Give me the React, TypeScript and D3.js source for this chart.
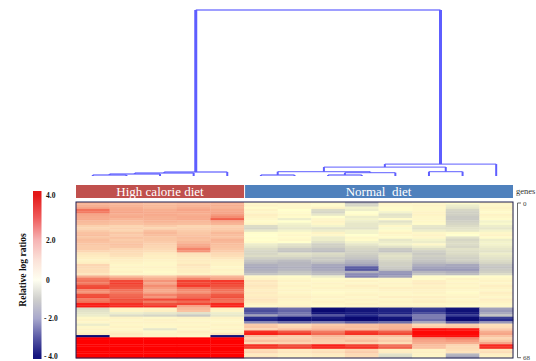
import React from "react";
import * as d3 from "d3";

// ---- data ----
const samples = ["HC1", "HC2", "HC3", "HC4", "HC5", "N1", "N2", "N3", "N4", "N5", "N6", "N7", "N8"];
const groupNames = ["High calorie diet", "Normal  diet"];
const groupSizes = [5, 8];
const geneTicks = [0, 68];
const legendTicks = [4, 2, 0, -2, -4];
const legendLabels = ["4.0", "2.0", "0", "- 2.0", "- 4.0"];

// merges: [leftNode, rightNode, height]; leaves 0..12, new clusters 13..
const dendroMerges: [number, number, number][] = [
  [0, 1, 0.006],
  [13, 2, 0.012],
  [14, 3, 0.018],
  [15, 4, 0.024],
  [5, 6, 0.006],
  [7, 8, 0.006],
  [18, 9, 0.02],
  [17, 19, 0.026],
  [10, 11, 0.026],
  [20, 21, 0.054],
  [22, 12, 0.072],
  [16, 23, 1.0],
];

const F = 4;
const heatRows: number[][] = [
  [1.7, 1.6, 1.5, 1.6, 1.7, 0.2, 0.3, 0.2, -0.9, 0.3, 0.2, 0.1, 0.3],
  [1.8, 1.7, 1.6, 1.7, 1.8, 0.3, 0.2, 0.1, -0.7, 0.2, 0.3, -0.3, 0.2],
  [2.0, 1.8, 1.6, 1.8, 1.7, 0.1, 0.2, 0.3, -0.2, 0.1, 0.2, -0.4, 0.3],
  [2.6, 1.9, 1.8, 2.0, 1.9, 0.3, 0.0, -0.6, -0.3, 0.1, 0.2, -0.7, 0.2],
  [2.5, 2.0, 1.9, 1.9, 2.0, 0.2, 0.1, -0.7, 0.0, -0.2, 0.3, -0.8, 0.1],
  [2.0, 1.8, 1.9, 1.8, 2.1, 0.4, 0.2, -0.4, 0.1, -0.5, 0.3, -0.8, 0.3],
  [1.9, 1.9, 1.8, 1.9, 2.3, 0.3, 0.1, 0.0, -0.3, -0.4, 0.2, -0.9, 0.2],
  [1.9, 1.7, 1.8, 1.9, 2.8, 0.2, -0.3, 0.2, -0.2, 0.1, 0.2, -0.9, 0.1],
  [1.6, 1.5, 1.7, 1.6, 1.9, 0.1, 0.0, 0.3, -0.3, -0.5, 0.2, -0.8, -0.2],
  [1.5, 1.4, 1.5, 1.5, 1.7, 0.2, -0.2, 0.2, -0.4, -0.3, 0.1, -0.7, -0.1],
  [1.1, 1.0, 1.2, 1.0, 1.1, -0.6, -0.3, -0.2, -0.4, 0.2, -0.4, -0.6, -0.3],
  [1.0, 1.1, 1.0, 1.1, 1.2, -0.7, -0.4, -0.5, -0.5, -0.1, -0.5, -0.5, -0.4],
  [1.2, 1.0, 1.4, 1.2, 1.3, -0.4, -0.2, -0.3, -0.2, 0.1, -0.3, -0.4, -0.2],
  [1.4, 1.3, 1.6, 1.3, 1.6, 0.05, 0.1, 0.3, -0.2, 0.3, 0.2, 0.1, 0.2],
  [1.5, 1.2, 1.5, 1.4, 1.5, 0.0, 0.2, 0.2, 0.0, 0.2, 0.3, 0.0, 0.3],
  [1.3, 1.4, 1.3, 1.5, 1.4, 0.05, 0.1, -0.3, 0.2, 0.1, 0.2, -0.5, 0.1],
  [1.5, 1.2, 1.3, 1.4, 1.7, 0.0, 0.2, -0.3, 0.1, -0.4, -0.2, -0.7, -0.3],
  [1.4, 1.3, 1.2, 1.6, 1.6, 0.1, 0.0, -0.5, -0.2, -0.3, -0.3, -0.6, -0.2],
  [1.3, 1.4, 1.1, 1.9, 1.5, -0.3, -0.5, -0.8, -0.4, -0.2, 0.2, -0.6, -0.2],
  [1.2, 1.3, 1.0, 2.0, 1.4, -0.4, -0.6, -0.8, -0.6, -0.5, -0.3, -0.7, -0.3],
  [1.2, 1.0, 0.9, 2.4, 1.3, -0.6, -0.9, -1.0, -0.7, -0.9, -0.6, -0.5, -0.4],
  [1.0, 0.9, 0.8, 2.2, 1.2, -0.7, -1.0, -1.1, -0.8, -1.0, -0.8, -0.6, -0.5],
  [0.6, 0.8, 0.5, 0.7, 0.9, -0.7, -0.5, -0.6, -0.8, -0.6, -0.9, -0.6, -0.3],
  [0.5, 0.7, 0.4, 0.6, 0.8, -0.6, -0.6, -0.7, -0.9, -0.5, -0.8, -0.7, -0.4],
  [0.4, 0.5, 0.4, 0.5, 0.6, -0.8, -0.8, -0.9, -1.0, -0.6, -0.9, -0.8, -0.5],
  [0.3, 0.4, 0.3, 0.5, 0.4, -1.0, -1.1, -0.9, -1.2, -0.7, -1.0, -0.8, -0.6],
  [0.4, 0.3, 0.2, 0.4, 0.3, -1.1, -1.2, -1.1, -1.3, -0.8, -1.1, -1.0, -0.7],
  [1.0, 0.2, 0.2, 0.6, 0.3, -1.3, -1.2, -1.4, -1.5, -0.8, -1.3, -1.4, -0.9],
  [0.9, 0.3, 0.3, 0.5, 0.2, -1.4, -1.3, -1.5, -2.4, -0.9, -1.5, -1.5, -1.0],
  [0.8, 0.2, 0.2, 0.4, 0.3, -1.3, -1.2, -1.4, -2.5, -1.0, -1.6, -1.6, -0.9],
  [0.8, 0.3, 0.1, 0.4, 0.2, -1.2, -1.0, -1.2, -1.3, -1.6, -1.2, -1.3, -0.8],
  [0.6, 0.2, 0.2, 0.3, 0.3, -1.0, -0.9, -1.1, -1.8, -1.7, -1.0, -1.1, -0.6],
  [1.8, 1.5, 1.3, 1.7, 1.6, 0.2, 0.1, -0.3, -1.9, -1.5, 0.1, 0.0, 0.1],
  [2.5, 2.2, 1.8, 2.4, 2.0, 0.3, 0.2, 0.1, 0.1, 0.2, 0.1, 0.3, 0.2],
  [2.6, 3.1, 2.2, 3.2, 3.3, 0.6, 0.3, 0.2, 0.3, 0.2, 0.4, 0.2, 0.3],
  [2.5, 3.2, 2.0, 3.1, 3.2, 0.5, 0.2, 0.3, 0.2, 0.3, 0.5, 0.3, 0.2],
  [3.0, 3.0, 2.3, 3.3, 3.0, 0.6, 0.3, 0.2, 0.4, 0.2, 0.3, 0.2, 0.4],
  [3.1, 2.9, 2.1, 2.6, 2.8, 0.5, 0.2, 0.3, 0.3, 0.4, 0.4, 0.3, 0.3],
  [2.3, 2.6, 1.9, 2.3, 2.6, 0.4, 0.3, 0.2, 0.2, 0.3, 0.3, 0.2, 0.2],
  [2.2, 2.5, 2.0, 2.2, 2.5, 0.5, 0.2, 0.1, 0.2, 0.2, 0.3, 0.1, 0.4],
  [3.0, 2.7, 2.4, 2.6, 2.9, 0.4, 0.3, 0.2, 0.3, 0.2, 0.2, 0.2, 0.3],
  [3.1, 2.8, 2.2, 2.7, 3.0, 0.5, 0.4, 0.3, 0.2, 0.4, 0.4, 0.3, 0.2],
  [2.5, 3.0, 3.1, 3.2, 2.7, 0.6, 0.3, 0.2, 0.3, 0.2, 0.3, 0.2, 0.4],
  [2.6, 2.9, 2.5, 2.7, 2.6, 0.5, 0.2, 0.3, 0.2, 0.3, 0.4, 0.3, 0.3],
  [3.6, 3.4, 3.0, 3.1, 3.5, 0.3, 0.2, 0.2, 0.3, 0.2, 0.2, 0.2, 0.2],
  [3.7, 3.5, 3.4, 2.0, 3.6, 0.2, 0.3, 0.1, 0.2, 0.3, 0.3, 0.1, 0.2],
  [-0.6, 0.3, 0.3, 1.6, 0.4, -2.5, -2.2, -3.8, -3.5, -3.2, -2.8, -3.6, -1.5],
  [-0.5, 0.3, 0.4, 1.4, 0.3, -2.6, -2.3, -3.9, -3.6, -3.3, -2.9, -3.7, -1.6],
  [-0.4, -0.3, -0.4, -0.5, -0.3, -2.4, -2.1, -3.6, -3.4, -3.3, -2.6, -3.5, -1.4],
  [-0.3, -0.6, -0.7, -0.9, -0.4, -1.5, -2.0, -2.5, -3.0, -2.5, -2.0, -2.8, -1.0],
  [0.2, 0.3, 0.2, 0.3, 0.3, -3.0, -3.6, -3.5, -3.9, -3.6, -2.0, -3.8, -2.8],
  [0.3, 0.2, 0.3, 0.2, 0.2, -3.2, -3.7, -3.7, -3.9, -3.7, -2.2, -3.9, -3.0],
  [0.2, 0.3, 0.3, 0.3, 0.2, -1.8, -2.2, -2.0, -2.4, -2.2, -1.4, -2.4, -1.6],
  [-0.3, 0.2, 0.2, 0.2, 0.3, 1.2, 0.8, 1.2, 1.4, 1.6, 0.9, 1.1, 0.7],
  [0.2, 0.3, 0.2, 0.3, 0.2, 1.3, 1.0, 1.4, 1.5, 1.7, 1.2, 1.3, 0.8],
  [0.3, 0.2, -0.4, 0.2, 0.3, 1.0, 1.4, 1.7, 1.5, 1.9, 3.8, 3.7, 1.2],
  [0.2, 0.3, 0.2, 0.4, 0.2, 3.4, 2.9, 2.5, 3.2, 2.8, 3.9, 3.9, 1.8],
  [0.4, 0.5, 0.3, 0.3, 0.6, 3.6, 3.3, 2.7, 3.4, 3.1, 3.9, 3.9, 2.0],
  [-3.8, 0.4, 0.3, 0.2, -3.6, 1.5, 1.2, 1.6, 1.4, 1.5, 3.8, 3.8, 1.4],
  [F, F, F, F, F, 1.0, 1.1, 1.3, 1.2, 1.0, 2.2, 2.4, 1.0],
  [F, F, F, F, F, 1.4, 1.3, 1.2, 1.5, 1.2, 2.0, 2.1, 1.3],
  [F, F, F, F, F, 0.9, 1.0, 1.1, 1.0, 0.8, 1.8, 1.8, 2.0],
  [F, F, F, F, F, 3.4, 3.0, 3.6, 3.2, 2.6, 1.5, 1.0, 3.5],
  [F, F, F, F, F, 3.3, 3.2, 3.5, 3.4, 2.8, 1.4, 0.9, 3.4],
  [F, F, F, F, F, 0.8, 0.5, 0.6, 1.0, 0.4, 0.3, 0.8, 0.6],
  [F, F, F, F, F, 1.0, 0.6, 0.8, 1.2, 0.5, 0.4, 0.7, 0.8],
  [F, F, F, F, F, 0.5, 0.4, 0.5, 0.9, -0.5, 0.3, -1.2, 0.4],
  [F, F, F, F, F, 0.6, 0.3, 0.4, 0.8, -0.6, 0.2, -1.4, 0.3],
];

// ---- layout ----
const W = 536;
const H = 361;
const hmLeft = 76;
const hmRight = 513;
const hmTop = 202;
const hmBottom = 358;
const serif = "'Liberation Serif', 'Times New Roman', serif";
const dendroColor = "#5e5eff";

export default function App() {
  const nRows = heatRows.length;
  const x = d3.scaleBand<number>().domain(d3.range(samples.length)).range([hmLeft, hmRight]);
  const y = d3.scaleBand<number>().domain(d3.range(nRows)).range([hmTop, hmBottom]);
  const geneScale = d3.scaleLinear().domain([0, 68]).range([203, 357.7]);

  const color = d3
    .scaleLinear<string>()
    .domain([-4, -3, -2, -1, 0, 1, 2, 3, 4])
    .range([
      "rgb(5,5,110)",
      "rgb(40,45,140)",
      "rgb(125,125,178)",
      "rgb(196,196,194)",
      "rgb(255,255,205)",
      "rgb(252,214,178)",
      "rgb(246,165,136)",
      "rgb(240,80,60)",
      "rgb(255,0,0)",
    ])
    .clamp(true);

  // dendrogram
  const dY = d3.scaleLinear().domain([0, 1]).range([176, 10]);
  const nodeX: number[] = samples.map((_, i) => (x(i) as number) + x.bandwidth() / 2);
  const nodeH: number[] = samples.map(() => 0);
  const vSegs: { x: number; y1: number; y2: number; root: boolean }[] = [];
  const hSegs: { x1: number; x2: number; y: number }[] = [];
  dendroMerges.forEach(([a, b, h], k) => {
    const isRoot = k === dendroMerges.length - 1;
    vSegs.push({ x: nodeX[a], y1: dY(nodeH[a]), y2: dY(h), root: isRoot });
    vSegs.push({ x: nodeX[b], y1: dY(nodeH[b]), y2: dY(h), root: isRoot });
    hSegs.push({ x1: nodeX[a], x2: nodeX[b], y: dY(h) });
    nodeX.push((nodeX[a] + nodeX[b]) / 2);
    nodeH.push(h);
  });

  // groups
  let start = 0;
  const groups = groupSizes.map((n, gi) => {
    const g = { name: groupNames[gi], x0: x(start) as number, x1: (x(start + n - 1) as number) + x.bandwidth() };
    start += n;
    return g;
  });
  const groupFill = ["#c0504d", "#4f81bd"];

  // legend
  const legY = d3.scaleLinear().domain(legendTicks).range([195, 240, 280, 318.5, 356]);
  const legendStops = [
    { v: 4, c: "#e41818" },
    { v: 3, c: "#ef5a5a" },
    { v: 2, c: "#f6b4b4" },
    { v: 1, c: "#fbe2d8" },
    { v: 0, c: "#fffff0" },
    { v: -1, c: "#cfcfcc" },
    { v: -2, c: "#a8a8cc" },
    { v: -3, c: "#5a5aa6" },
    { v: -4, c: "#14147e" },
  ];
  const legTop = 191;
  const legBot = 359;

  return (
    <svg width={W} height={H} style={{ position: "absolute", left: 0, top: 0, background: "#fff" }}>
      <defs>
        <linearGradient id="leg" x1="0" y1={legTop} x2="0" y2={legBot} gradientUnits="userSpaceOnUse">
          {legendStops.map((s, i) => (
            <stop key={i} offset={(legY(s.v) - legTop) / (legBot - legTop)} stopColor={s.c} />
          ))}
        </linearGradient>
      </defs>

      {/* dendrogram */}
      <g stroke={dendroColor} fill="none">
        {hSegs.map((s, i) => (
          <line key={"h" + i} x1={s.x1} x2={s.x2} y1={s.y} y2={s.y} strokeWidth={1.3} strokeOpacity={0.8} />
        ))}
        {vSegs.map((s, i) => (
          <line key={"v" + i} x1={s.x} x2={s.x} y1={s.y1} y2={s.y2} strokeWidth={s.root ? 3 : 2} />
        ))}
      </g>

      {/* group headers */}
      {groups.map((g, i) => (
        <g key={i}>
          <rect x={g.x0 + (i ? 1 : 0)} y={185} width={g.x1 - g.x0 - (i ? 1 : 0)} height={13} fill={groupFill[i]} />
          <text
            x={(g.x0 + g.x1) / 2}
            y={196}
            textAnchor="middle"
            fill="#fff"
            fontFamily={serif}
            fontSize={13}
            style={{ whiteSpace: "pre" }}
          >
            {g.name}
          </text>
        </g>
      ))}

      {/* heatmap */}
      <g>
        {heatRows.map((row, r) =>
          row.map((v, c) => (
            <rect
              key={r + "-" + c}
              x={x(c)}
              y={y(r)}
              width={x.bandwidth() + 0.3}
              height={y.bandwidth() + 0.3}
              fill={color(v)}
            />
          ))
        )}
        <rect x={hmLeft} y={hmTop} width={hmRight - hmLeft} height={hmBottom - hmTop} fill="none" stroke="#1c1c50" strokeWidth={1} />
      </g>

      {/* gene axis */}
      <text x={516} y={194} fontFamily={serif} fontSize={8.5} fill="#333">
        genes
      </text>
      <path
        d={`M521,${geneScale(0)}H517.5V${geneScale(68)}H521`}
        fill="none"
        stroke="#444"
        strokeWidth={0.8}
      />
      {geneTicks.map((t) => (
        <text key={t} x={523} y={geneScale(t) + 2.5} fontFamily={serif} fontSize={7} fill="#444">
          {t}
        </text>
      ))}

      {/* colour legend */}
      <rect x={33} y={legTop} width={8.5} height={legBot - legTop} fill="url(#leg)" />
      {legendTicks.map((t, i) => (
        <text
          key={t}
          x={t < 0 ? 44 : 46}
          y={legY(t) + 2.5}
          fontFamily={serif}
          fontSize={7.5}
          fontWeight="bold"
          fill="#111"
          style={{ whiteSpace: "pre" }}
        >
          {legendLabels[i]}
        </text>
      ))}
      <text
        transform="translate(26,270) rotate(-90)"
        textAnchor="middle"
        fontFamily={serif}
        fontSize={9.5}
        fontWeight="bold"
        fill="#111"
      >
        Relative log ratios
      </text>
    </svg>
  );
}
